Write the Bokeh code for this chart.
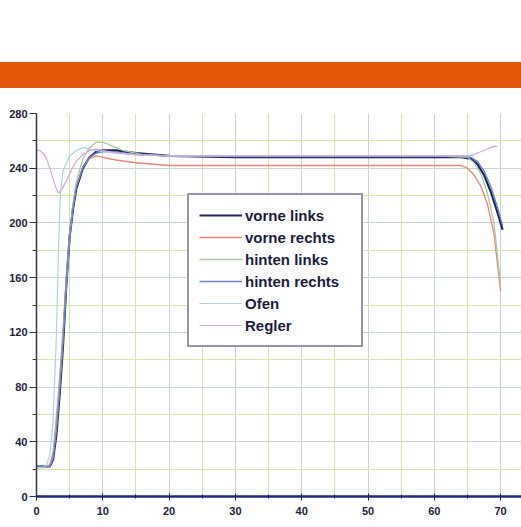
from bokeh.plotting import figure
from bokeh.models import Range1d, SingleIntervalTicker, Legend, LegendItem, Spacer, Div
from bokeh.layouts import column
from bokeh.embed import file_html
from bokeh.resources import INLINE

# ---------------- data ----------------
x_ticks_interval = 10
y_ticks_interval = 40

t_vl = [0, 1, 2, 2.5, 3, 3.5, 4, 4.5, 5, 5.5, 6, 7, 8, 9, 10, 12, 15, 20, 30, 40, 50, 60, 64, 65.5, 66.5, 67.5, 68.5, 69.5, 70.3]
vorne_links = [22, 22, 22, 27, 45, 75, 110, 155, 190, 210, 225, 240, 248, 252, 253, 253, 251, 249, 248, 248, 248, 248, 248, 247, 243, 235, 223, 208, 195]

t_vr = [0, 1, 2, 2.5, 3, 3.5, 4, 4.5, 5, 5.5, 6, 7, 8, 9, 10, 12, 15, 20, 30, 40, 50, 60, 64, 65, 66, 67, 68, 69, 70]
vorne_rechts = [22, 22, 23, 32, 58, 88, 122, 160, 192, 212, 227, 241, 247, 249, 248, 246, 244, 242, 242, 242, 242, 242, 242, 240, 235, 227, 214, 192, 150]

t_hl = [0, 1, 2, 2.5, 3, 3.5, 4, 4.5, 5, 5.5, 6, 7, 8, 9, 10, 11, 13, 16, 20, 30, 40, 50, 60, 65, 66, 67, 68, 69, 70]
hinten_links = [22, 22, 22, 29, 52, 82, 117, 156, 190, 213, 230, 247, 255, 259, 259, 257, 253, 250, 249, 249, 249, 249, 249, 248, 244, 236, 222, 200, 155]

t_hr = [0, 1, 2, 2.5, 3, 3.5, 4, 4.5, 5, 5.5, 6, 7, 8, 9, 10, 12, 15, 20, 30, 40, 50, 60, 64, 65.5, 66.5, 67.5, 68.5, 69.5, 70.3]
hinten_rechts = [22, 22, 22, 28, 48, 78, 113, 157, 191, 211, 226, 241, 248, 251, 252, 252, 250, 249, 249, 249, 249, 249, 249, 248, 245, 238, 227, 212, 198]

t_of = [0, 1, 1.5, 2, 2.5, 3, 3.3, 3.6, 4, 5, 6, 7, 8, 10, 15, 20, 30, 40, 50, 60, 65, 66]
ofen = [21, 21, 23, 30, 55, 118, 178, 222, 238, 249, 253, 255, 254, 252, 250, 249, 249, 249, 249, 249, 249, 249]

t_rg = [0, 0.5, 1, 1.5, 2, 2.5, 3, 3.3, 3.6, 4, 4.5, 5, 5.5, 6, 7, 8, 9, 10, 12, 15, 20, 30, 40, 50, 60, 65, 66, 67, 68, 69, 69.5]
regler = [253, 253, 251, 247, 240, 232, 225, 222, 223, 226, 231, 236, 241, 245, 250, 253, 254, 253, 251, 250, 249, 249, 249, 249, 249, 249, 250, 252, 254, 256, 256]

series_names = ["vorne links", "vorne rechts", "hinten links", "hinten rechts", "Ofen", "Regler"]
series_x = [t_vl, t_vr, t_hl, t_hr, t_of, t_rg]
series_y = [vorne_links, vorne_rechts, hinten_links, hinten_rechts, ofen, regler]
series_colors = ["#1f2760", "#e8857a", "#a9c9a0", "#6a86c8", "#a8d4e6", "#d4a8d8"]
series_widths = [2.2, 1.3, 1.3, 1.3, 1.2, 1.2]

FONT = "Liberation Sans"
W = 521

# ---------------- orange band ----------------
band = Div(text="", width=W, height=26,
           styles={"background-color": "#e3570b", "margin": "0", "padding": "0"})

# ---------------- main chart ----------------
p = figure(width=W, height=438, output_backend="svg", toolbar_location=None,
           x_range=Range1d(0, 73.15), y_range=Range1d(0, 280),
           min_border_left=36, min_border_right=0, min_border_top=25, min_border_bottom=30,
           outline_line_color=None, background_fill_color="white", border_fill_color="white")

xt = SingleIntervalTicker(interval=x_ticks_interval, num_minor_ticks=2)
yt = SingleIntervalTicker(interval=y_ticks_interval, num_minor_ticks=2)
p.xaxis.ticker = xt
p.yaxis.ticker = yt
p.xgrid.ticker = xt
p.ygrid.ticker = yt

p.xgrid.grid_line_color = "#c6d4d6"
p.xgrid.minor_grid_line_color = "#d6e6b2"
p.ygrid.grid_line_color = "#c6d4d6"
p.ygrid.minor_grid_line_color = "#dde8a4"
for g in (p.xgrid, p.ygrid):
    g.grid_line_width = 1
    g.minor_grid_line_width = 1

for ax in (p.xaxis, p.yaxis):
    ax.major_label_text_font = FONT
    ax.major_label_text_font_style = "bold"
    ax.major_label_text_font_size = "11px"
    ax.major_label_text_color = "#22223a"

p.xaxis.axis_line_color = "#1e2a80"
p.xaxis.axis_line_width = 2.5
p.xaxis.major_tick_line_color = "#22223a"
p.xaxis.minor_tick_line_color = "#22223a"
p.xaxis.major_tick_in = 3
p.xaxis.major_tick_out = 4
p.xaxis.minor_tick_in = 2
p.xaxis.minor_tick_out = 2
p.xaxis.major_label_standoff = 6

p.yaxis.axis_line_color = "#333344"
p.yaxis.axis_line_width = 1.5
p.yaxis.major_tick_line_color = "#333344"
p.yaxis.minor_tick_line_color = "#333344"
p.yaxis.major_tick_in = 0
p.yaxis.major_tick_out = 7
p.yaxis.minor_tick_in = 0
p.yaxis.minor_tick_out = 4
p.yaxis.major_label_standoff = 2

items = []
for name, xs, ys, c, w in zip(series_names, series_x, series_y, series_colors, series_widths):
    r = p.line(xs, ys, line_color=c, line_width=w)
    items.append(LegendItem(label=name, renderers=[r]))

legend = Legend(items=items, location=(151, 149),
                label_text_font=FONT, label_text_font_style="bold",
                label_text_font_size="15px", label_text_color="#1c1c3c",
                glyph_width=43, glyph_height=20, label_height=20, label_width=106,
                label_standoff=3, spacing=2, padding=10,
                border_line_color="#2a2a55", border_line_width=2,
                background_fill_color="white", background_fill_alpha=1.0)
p.add_layout(legend, "center")

layout = column(Spacer(width=W, height=62), band, p)

open("out.html", "w").write(file_html(layout, INLINE))
